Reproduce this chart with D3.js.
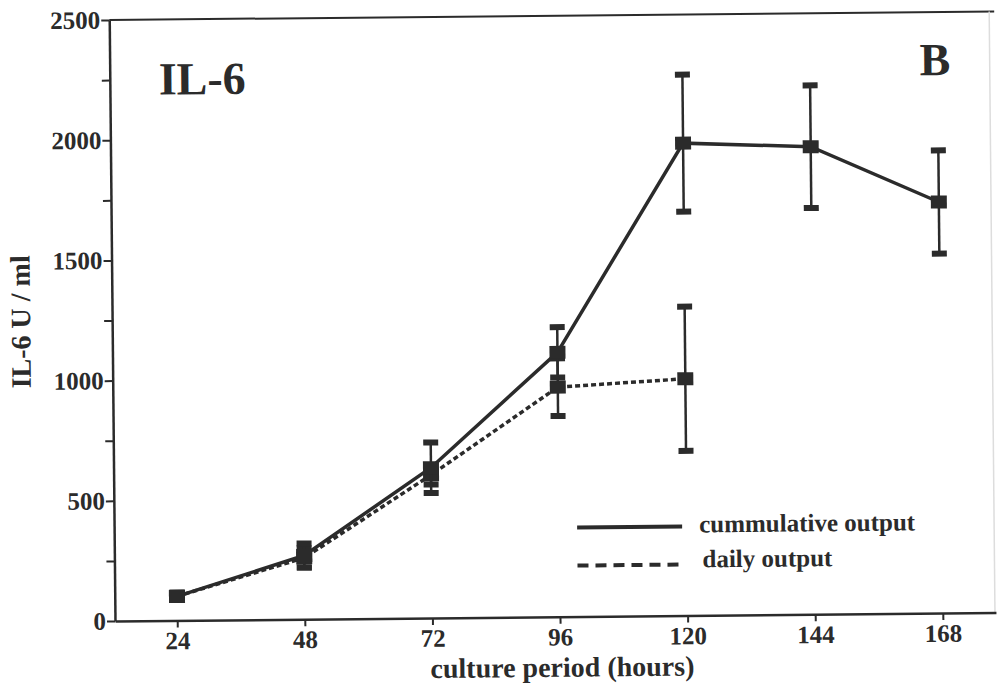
<!DOCTYPE html>
<html>
<head>
<meta charset="utf-8">
<script src="https://cdnjs.cloudflare.com/ajax/libs/d3/7.8.5/d3.min.js"></script>
<style>
	body { margin: 0; background: #fff; }
	svg { display: block; font-family: "Liberation Serif", "DejaVu Serif", serif; font-weight: bold; }
</style>
</head>
<body>
<svg id="chart" width="998" height="687"></svg>
<script>
// values (IL-6 U/ml)
var hours = [24, 48, 72, 96, 120, 144, 168];
var cumulative = [100, 265, 625, 1100, 1965, 1945, 1710];
var cumulativeErr = [15, 50, 105, 105, 285, 255, 215];
var dailyHours = [24, 48, 72, 96, 120];
var daily = [100, 255, 595, 955, 985];
var dailyErr = [15, 40, 40, 120, 300];
var yTicks = [0, 500, 1000, 1500, 2000, 2500];
var yMinorTicks = [250, 750, 1250, 1750, 2250];
var legendLabels = ['cummulative output', 'daily output'];

var ink = '#2b2b2b';

var svg = d3.select('#chart');

// the scan is slightly tilted, so everything sits in one rotated group
var g = svg.append('g')
	.attr('transform', 'rotate(-0.55, 115, 621)');

var x = d3.scaleLinear().domain([12.3, 178]).range([115, 996]);
var y = d3.scaleLinear().domain([0, 2500]).range([621, 20]);

// frame
g.append('line')
	.attr('x1', 115).attr('y1', y(2500))
	.attr('x2', 1000).attr('y2', y(2500))
	.attr('stroke', ink).attr('stroke-width', 2);
g.append('line')
	.attr('x1', 995).attr('y1', y(2500))
	.attr('x2', 995).attr('y2', y(0))
	.attr('stroke', '#ddd').attr('stroke-width', 1.5);

// axes
g.append('g')
	.attr('transform', 'translate(115,0)')
	.call(d3.axisLeft(y).tickValues(yTicks).tickFormat(d3.format('d'))
		.tickSize(8).tickSizeOuter(0).tickPadding(1));

g.append('g')
	.attr('transform', 'translate(115,0)')
	.call(d3.axisLeft(y).tickValues(yMinorTicks).tickSize(8).tickFormat(''))
	.select('.domain').remove();

g.append('g')
	.attr('transform', 'translate(0,' + y(0) + ')')
	.call(d3.axisBottom(x).tickValues(hours).tickFormat(d3.format('d'))
		.tickSize(7).tickSizeOuter(0).tickPadding(4));

g.selectAll('.domain').attr('stroke', ink).attr('stroke-width', 2.5);
g.selectAll('.tick line').attr('stroke', ink).attr('stroke-width', 2);
g.selectAll('.tick text')
	.attr('fill', ink)
	.style('font-family', '"Liberation Serif", serif')
	.style('font-weight', 'bold')
	.style('font-size', '25px');

// axis titles
g.append('text')
	.attr('x', 562).attr('y', 681)
	.attr('text-anchor', 'middle')
	.attr('fill', ink)
	.style('font-size', '28px')
	.text('culture period (hours)');

g.append('text')
	.attr('transform', 'translate(33,321) rotate(-90)')
	.attr('text-anchor', 'middle')
	.attr('fill', ink)
	.style('font-size', '28px')
	.text('IL-6 U / ml');

g.append('text')
	.attr('x', 164).attr('y', 95)
	.attr('fill', ink)
	.style('font-size', '46px')
	.text('IL-6');

g.append('text')
	.attr('x', 925).attr('y', 83)
	.attr('fill', ink)
	.style('font-size', '46px')
	.text('B');

// series
var cumData = hours.map(function(h, i) { return { h: h, v: cumulative[i], e: cumulativeErr[i] }; });
var dayData = dailyHours.map(function(h, i) { return { h: h, v: daily[i], e: dailyErr[i] }; });

var line = d3.line()
	.x(function(d) { return x(d.h); })
	.y(function(d) { return y(d.v); });

g.append('path')
	.datum(dayData)
	.attr('d', line)
	.attr('fill', 'none')
	.attr('stroke', ink)
	.attr('stroke-width', 3.5)
	.attr('stroke-dasharray', '5,3');

g.append('path')
	.datum(cumData)
	.attr('d', line)
	.attr('fill', 'none')
	.attr('stroke', ink)
	.attr('stroke-width', 3.5);

function drawErrors(data) {
	var bars = g.append('g').selectAll('g')
		.data(data)
		.enter()
		.append('g');

	bars.append('line')
		.attr('x1', function(d) { return x(d.h); })
		.attr('x2', function(d) { return x(d.h); })
		.attr('y1', function(d) { return y(d.v - d.e); })
		.attr('y2', function(d) { return y(d.v + d.e); })
		.attr('stroke', ink)
		.attr('stroke-width', 2.5);

	[-1, 1].forEach(function(sign) {
		bars.append('rect')
			.attr('x', function(d) { return x(d.h) - 7.5; })
			.attr('y', function(d) { return y(d.v + sign * d.e) - 3; })
			.attr('width', 15)
			.attr('height', 6)
			.attr('fill', ink);
	});

	bars.append('rect')
		.attr('x', function(d) { return x(d.h) - 8; })
		.attr('y', function(d) { return y(d.v) - 6.5; })
		.attr('width', 16)
		.attr('height', 13)
		.attr('fill', ink);
}

drawErrors(dayData);
drawErrors(cumData);

// legend
var legend = g.append('g');
legend.append('line')
	.attr('x1', 578).attr('y1', 532)
	.attr('x2', 683).attr('y2', 532)
	.attr('stroke', ink).attr('stroke-width', 4);
legend.append('line')
	.attr('x1', 578).attr('y1', 570)
	.attr('x2', 680).attr('y2', 570)
	.attr('stroke', ink).attr('stroke-width', 4)
	.attr('stroke-dasharray', '11,7');

legend.selectAll('text')
	.data(legendLabels)
	.enter()
	.append('text')
	.attr('x', function(d, i) { return i === 0 ? 700 : 703; })
	.attr('y', function(d, i) { return 538 + i * 35; })
	.attr('fill', ink)
	.style('font-size', '25px')
	.text(function(d) { return d; });
</script>
</body>
</html>
